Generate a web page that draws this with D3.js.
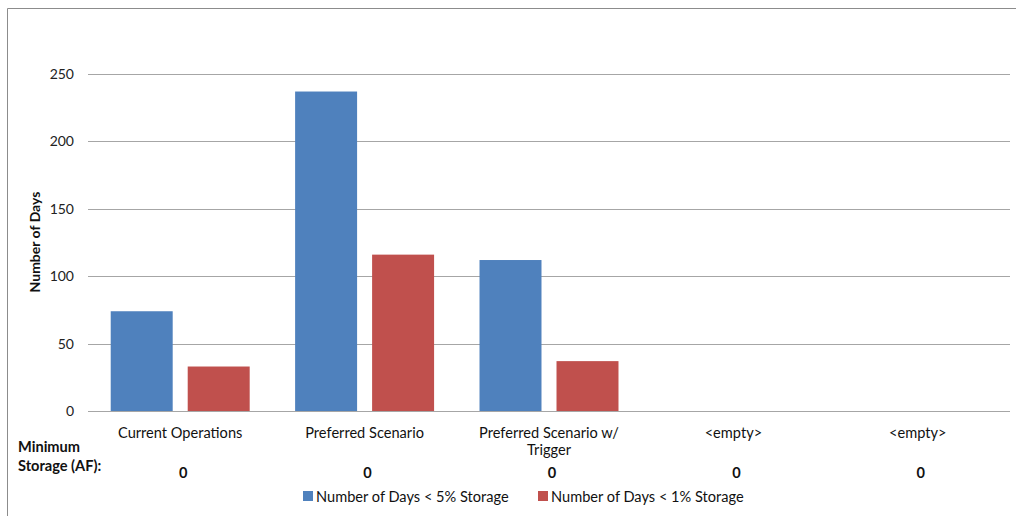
<!DOCTYPE html>
<html>
<head>
<meta charset="utf-8">
<script src="https://cdn.jsdelivr.net/npm/d3@7"></script>
<style>
  html, body { margin: 0; padding: 0; background: #fff; }
  svg { display: block; font-family: Lato, "Open Sans", sans-serif; }
</style>
</head>
<body>
<svg id="chart" width="1016" height="516"></svg>
<script>
// Scenario categories and the two day-count series
const categories = ["Current Operations", "Preferred Scenario", "Preferred Scenario w/ Trigger", "<empty>", "<empty>"];
const daysBelow5 = [74, 237, 112, 0, 0];
const daysBelow1 = [33, 116, 37, 0, 0];
const minimumStorage = [0, 0, 0, 0, 0];
const yTicks = [0, 50, 100, 150, 200, 250];
const seriesNames = ["Number of Days < 5% Storage", "Number of Days < 1% Storage"];
const seriesColors = ["#4F81BD", "#C0504D"];

const svg = d3.select("#chart");
const plot = { left: 88, right: 1010, top: 74, bottom: 411 };
const labelSize = 14.6;

// Frame (top and left edges)
svg.append("path")
  .attr("d", "M7.5,516 V8.5 H1016")
  .attr("fill", "none")
  .attr("stroke", "#8c8c8c")
  .attr("stroke-width", 1);

const x = d3.scaleBand()
  .domain(d3.range(categories.length))
  .range([plot.left, plot.right]);

const xInner = d3.scaleBand()
  .domain([0, 1])
  .range([0, x.bandwidth()])
  .paddingInner(0.195)
  .paddingOuter(0.295);

const y = d3.scaleLinear()
  .domain([0, 250])
  .range([plot.bottom, plot.top]);

// Gridlines
svg.append("g")
  .selectAll("line")
  .data(yTicks)
  .join("line")
  .attr("x1", plot.left)
  .attr("x2", plot.right)
  .attr("y1", d => Math.round(y(d)) + 0.5)
  .attr("y2", d => Math.round(y(d)) + 0.5)
  .attr("stroke", "#a6a6a6")
  .attr("stroke-width", 1.2);

// Y axis labels
const yAxis = d3.axisLeft(y).tickValues(yTicks).tickSize(0).tickPadding(0);
const yG = svg.append("g")
  .attr("transform", `translate(${plot.left - 14},0)`)
  .call(yAxis);
yG.select(".domain").remove();
yG.selectAll("text")
  .attr("font-family", "Lato, 'Open Sans', sans-serif")
  .attr("font-size", 14)
  .attr("fill", "#222");

// Y axis title
svg.append("text")
  .attr("transform", "translate(40,242) rotate(-90)")
  .attr("text-anchor", "middle")
  .attr("font-size", 14)
  .attr("font-weight", "bold")
  .attr("fill", "#111")
  .text("Number of Days");

// Bars
const series = [daysBelow5, daysBelow1];
series.forEach((vals, s) => {
  svg.append("g")
    .selectAll("rect")
    .data(vals)
    .join("rect")
    .attr("x", (d, i) => x(i) + xInner(s))
    .attr("width", xInner.bandwidth())
    .attr("y", d => y(d))
    .attr("height", d => y(0) - y(d))
    .attr("fill", seriesColors[s]);
});

// Category labels, wrapped to the band width
function wrapWords(text, maxWidth, node) {
  const words = text.split(/\s+/);
  const lines = [];
  let line = [];
  words.forEach(w => {
    const trial = line.concat(w).join(" ");
    node.text(trial);
    if (node.node().getComputedTextLength() > maxWidth && line.length) {
      lines.push(line.join(" "));
      line = [w];
    } else {
      line.push(w);
    }
  });
  lines.push(line.join(" "));
  return lines;
}

const catG = svg.append("g");
categories.forEach((c, i) => {
  const t = catG.append("text")
    .attr("text-anchor", "middle")
    .attr("font-size", labelSize)
    .attr("fill", "#111")
    .attr("x", x(i) + x.bandwidth() / 2)
    .attr("y", 438);
  const lines = wrapWords(c, 160, t);
  t.text(null);
  lines.forEach((ln, k) => {
    t.append("tspan")
      .attr("x", x(i) + x.bandwidth() / 2)
      .attr("y", 438 + k * 17)
      .text(ln);
  });
});

// Data table row: minimum storage
svg.append("text")
  .attr("x", 18)
  .attr("font-size", labelSize)
  .attr("font-weight", "bold")
  .attr("fill", "#111")
  .selectAll("tspan")
  .data(["Minimum", "Storage (AF):"])
  .join("tspan")
  .attr("x", 18)
  .attr("y", (d, k) => 452 + k * 19)
  .text(d => d);

svg.append("g")
  .selectAll("text")
  .data(minimumStorage)
  .join("text")
  .attr("x", (d, i) => x(i) + x.bandwidth() / 2 + 3)
  .attr("y", 478)
  .attr("text-anchor", "middle")
  .attr("font-size", labelSize)
  .attr("font-weight", "bold")
  .attr("fill", "#111")
  .text(d => d);

// Legend
const legendX = [303, 538];
seriesNames.forEach((name, s) => {
  const g = svg.append("g").attr("transform", `translate(${legendX[s]},491)`);
  g.append("rect")
    .attr("width", 10)
    .attr("height", 10)
    .attr("fill", seriesColors[s]);
  g.append("text")
    .attr("x", 13)
    .attr("y", 10.5)
    .attr("font-size", labelSize)
    .attr("fill", "#111")
    .text(name);
});
</script>
</body>
</html>
